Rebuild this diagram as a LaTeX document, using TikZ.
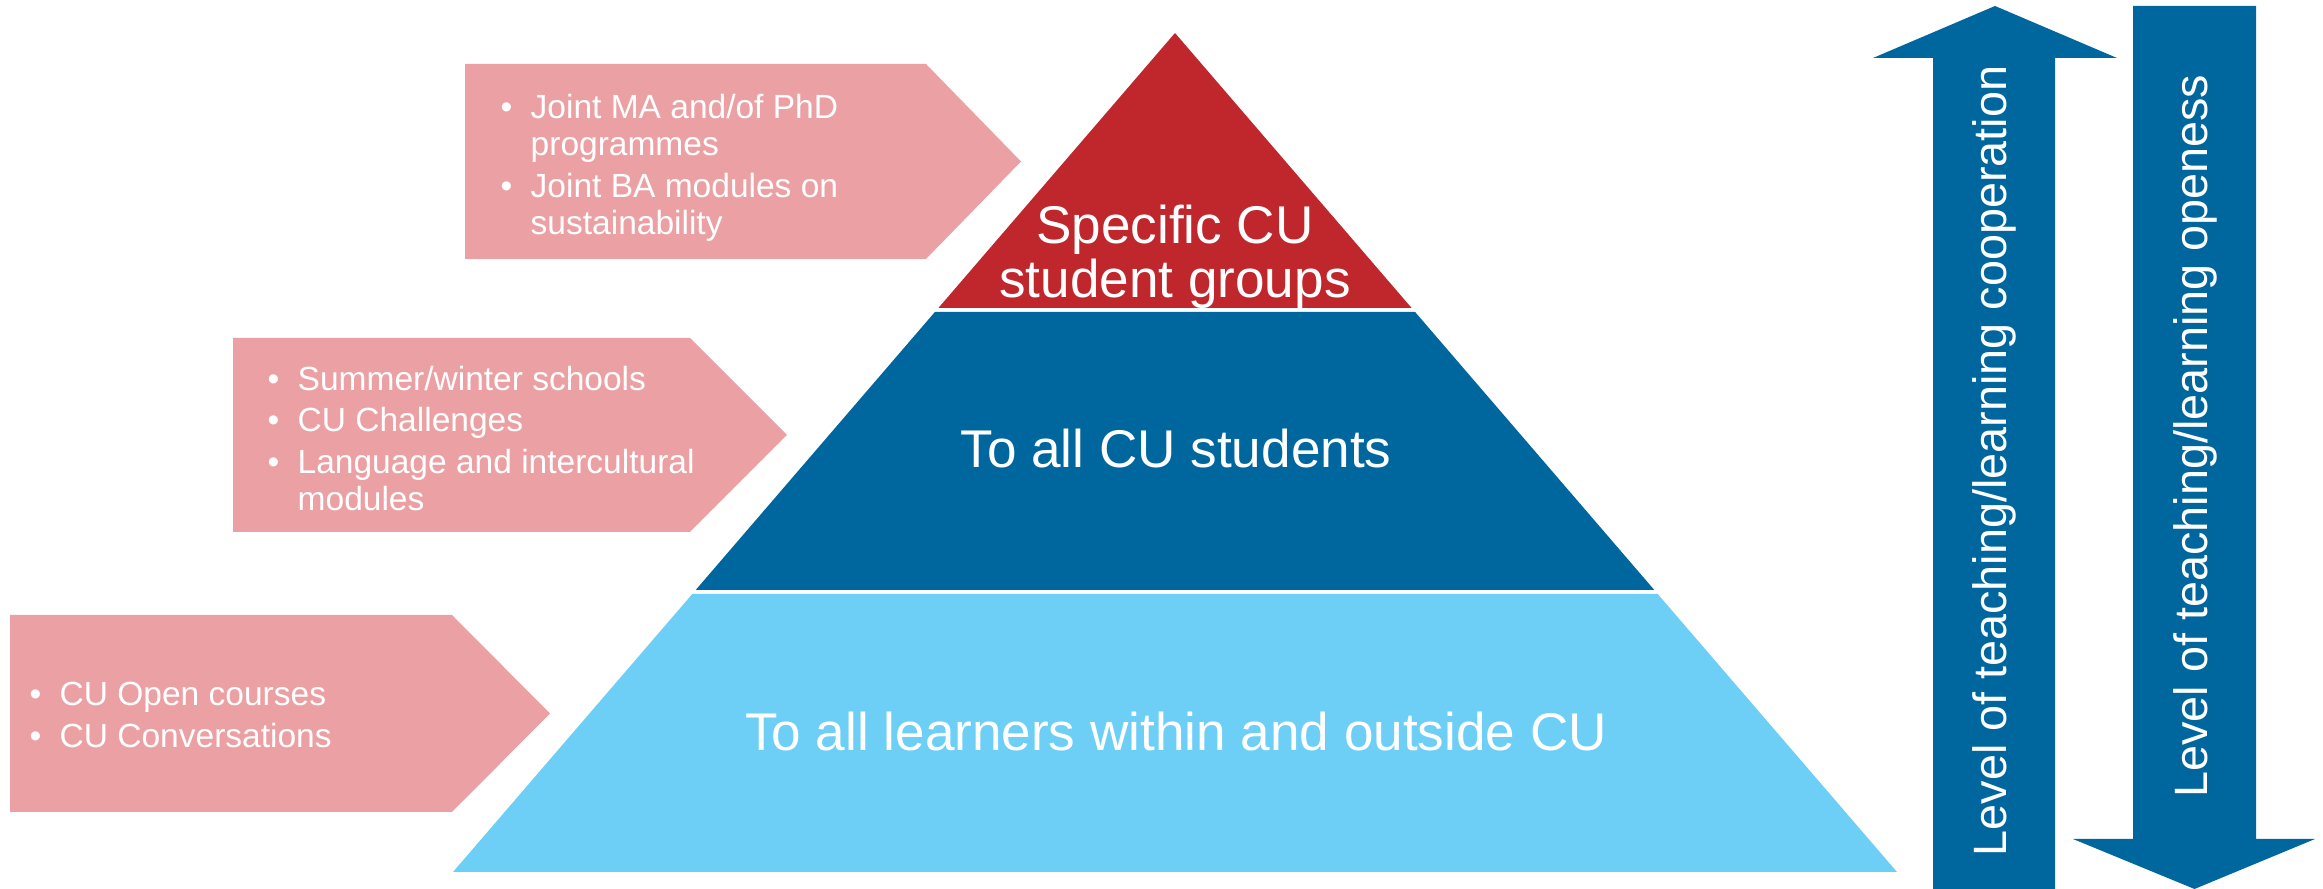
\documentclass[tikz,border=0pt]{standalone}
\usepackage{fontspec}
\setmainfont{Liberation Sans}
\definecolor{cured}{RGB}{192,39,45}
\definecolor{cublue}{RGB}{0,103,158}
\definecolor{culight}{RGB}{109,207,246}
\definecolor{cupink}{RGB}{235,161,164}
\newcommand{\pinklist}[1]{{\fontsize{9.53}{10.5}\selectfont\begin{tabular}{@{}l@{\hspace{5.2pt}}l@{}}#1\end{tabular}}}
\begin{document}
\begin{tikzpicture}[x=0.01cm,y=-0.01cm,
  pinkbox/.style={fill=cupink},
  bluearrow/.style={fill=cublue},
  listtext/.style={anchor=west,inner sep=0pt,text=white,align=left},
  leveltext/.style={text=white,inner sep=0pt,rotate=90,font=\fontsize{13.3}{15}\selectfont},
  pyrtext/.style={text=white,inner sep=0pt,align=center,font=\fontsize{15.1}{15.3}\selectfont}]
\useasboundingbox (0,0) rectangle (2323,889);
% pyramid bands
\fill[cured] (1175,33) -- (1411.6,308) -- (938.4,308) -- cycle;
\fill[cublue] (934.9,312) -- (1415.1,312) -- (1654.3,590) -- (695.7,590) -- cycle;
\fill[culight] (692.3,594) -- (1657.7,594) -- (1897,872) -- (453,872) -- cycle;
\node[pyrtext] (top) at (1175,257) {Specific CU\\student groups};
\node[pyrtext] (mid) at (1176,449) {To all CU students};
\node[pyrtext] (low) at (1176,732) {To all learners within and outside CU};
% pink arrows
\fill[pinkbox] (465,64) -- (926,64) -- (1021,161.5) -- (926,259) -- (465,259) -- cycle;
\fill[pinkbox] (233,338) -- (690,338) -- (787,435) -- (690,532) -- (233,532) -- cycle;
\fill[pinkbox] (10,615) -- (452,615) -- (550,713.5) -- (452,812) -- (10,812) -- cycle;
\node[listtext] (l1) at (500,169) {\pinklist{\textbullet & Joint MA and/of PhD\\ & programmes\\[1.3pt] \textbullet & Joint BA modules on\\ & sustainability}};
\node[listtext] (l2) at (267,443) {\pinklist{\textbullet & Summer/winter schools\\[1.3pt] \textbullet & CU Challenges\\[1.3pt] \textbullet & Language and intercultural\\ & modules}};
\node[listtext] (l3) at (29,719) {\pinklist{\textbullet & CU Open courses\\[1.3pt] \textbullet & CU Conversations}};
% right arrows
\fill[bluearrow] (1933,889) -- (1933,58) -- (1873,58) -- (1995,6) -- (2117,58) -- (2055,58) -- (2055,889) -- cycle;
\fill[bluearrow] (2133,6) -- (2256,6) -- (2256,839) -- (2315,839) -- (2194.5,889) -- (2073,839) -- (2133,839) -- cycle;
\node[leveltext] (coop) at (1994,461) {Level of teaching/learning cooperation};
\node[leveltext] (open) at (2195,436) {Level of teaching/learning openess};
\end{tikzpicture}
\end{document}
